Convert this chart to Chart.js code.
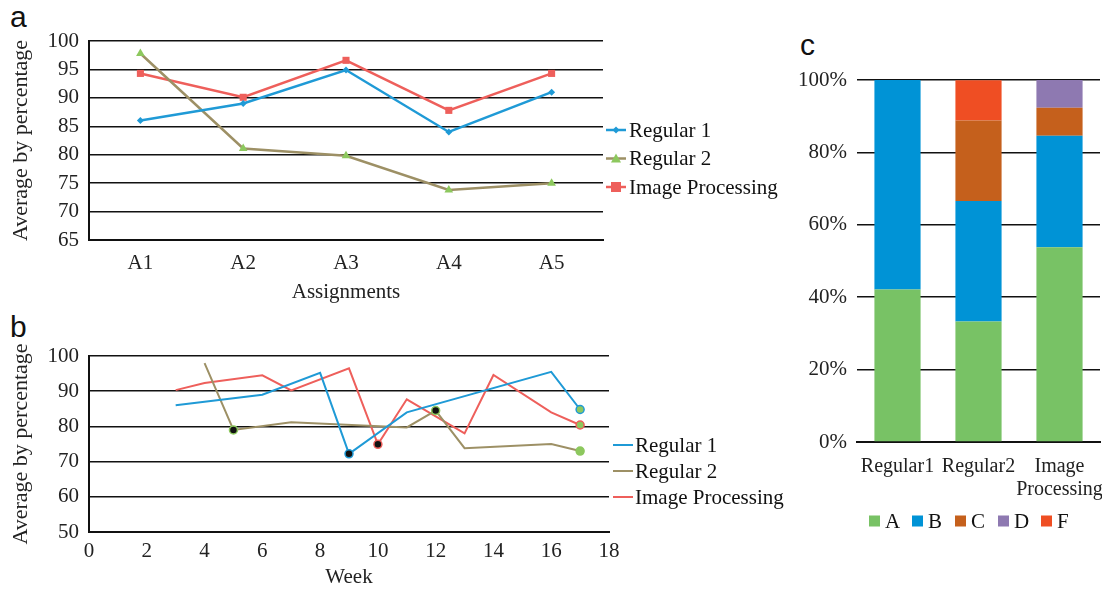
<!DOCTYPE html>
<html>
<head>
<meta charset="utf-8">
<script src="https://cdn.jsdelivr.net/npm/chart.js@4.4.1/dist/chart.umd.min.js"></script>
<style>
  body { margin: 0; background: #fff; width: 1102px; height: 590px; position: relative; overflow: hidden; }
  canvas { position: absolute; }
  .tag { position: absolute; font-family: "Liberation Sans", "DejaVu Sans", sans-serif; font-size: 30px; color: #111; line-height: 1; }
</style>
</head>
<body>
<div class="tag" style="left:10px; top:2px;">a</div>
<div class="tag" style="left:10px; top:312px;">b</div>
<div class="tag" style="left:800px; top:30px;">c</div>
<canvas id="chartA" width="790" height="305" style="left:0; top:0;"></canvas>
<canvas id="chartB" width="800" height="280" style="left:0; top:310px;"></canvas>
<canvas id="chartC" width="340" height="570" style="left:790px; top:20px;"></canvas>
<script>
// panel a: average per assignment
const assignments = ['A1', 'A2', 'A3', 'A4', 'A5'];
const regular1Avg = [86, 89, 94.9, 84, 91];
const regular2Avg = [97.8, 81.1, 79.8, 73.8, 75];
const imageAvg = [94.3, 90.1, 96.6, 87.8, 94.3];

// panel b: average per week
const reg1Weeks = [3, 6, 8, 9, 11, 16, 17];
const reg1Weekly = [86, 89, 95.2, 72.2, 84, 95.5, 84.8];
const reg2Weeks = [4, 5, 7, 11, 12, 13, 16, 17];
const reg2Weekly = [98, 79, 81.2, 79.7, 84.5, 73.8, 75, 73];
const imgWeeks = [3, 4, 6, 7, 9, 10, 11, 13, 14, 16, 17];
const imgWeekly = [90.3, 92.3, 94.5, 90.2, 96.5, 74.9, 87.7, 78, 94.6, 84, 80.4];
// weeks with a dot on them
const reg1Marked = [9, 17];
const reg2Marked = [5, 12, 17];
const imgMarked = [10, 17];
const lastWeek = 17;

// panel c: grade distribution (%)
const groups = ['Regular1', 'Regular2', ['Image', 'Processing']];
const gradeA = [42.1, 33.3, 53.8];
const gradeB = [57.9, 33.3, 30.8];
const gradeC = [0, 22.2, 7.7];
const gradeD = [0, 0, 7.7];
const gradeF = [0, 11.1, 0];

const BLUE = '#1f9ad6';
const OLIVE = '#9d9065';
const RED = '#ee5f5b';
const GREEN = '#8dc85e';
const SERIF = '"Liberation Serif", "DejaVu Serif", serif';
const INK = '#222';

function drawMarker(ctx, style, cx, cy, r, color) {
    ctx.fillStyle = color;
    ctx.beginPath();
    if (style === 'rect') {
        ctx.rect(cx - r, cy - r, 2 * r, 2 * r);
    } else if (style === 'triangle') {
        ctx.moveTo(cx, cy - r);
        ctx.lineTo(cx + r, cy + r * 0.8);
        ctx.lineTo(cx - r, cy + r * 0.8);
        ctx.closePath();
    } else {
        ctx.moveTo(cx, cy - r);
        ctx.lineTo(cx + r, cy);
        ctx.lineTo(cx, cy + r);
        ctx.lineTo(cx - r, cy);
        ctx.closePath();
    }
    ctx.fill();
}

// simple legend drawn straight on the canvas, one entry per dataset
const keyLegend = {
    id: 'keyLegend',
    afterDraw(chart, args, opts) {
        const ctx = chart.ctx;
        ctx.save();
        ctx.font = opts.font;
        ctx.textBaseline = 'middle';
        chart.data.datasets.forEach((ds, i) => {
            const x = opts.x + i * (opts.dx || 0);
            const y = opts.y + i * (opts.dy || 0);
            if (opts.kind === 'box') {
                ctx.fillStyle = ds.backgroundColor;
                ctx.fillRect(x, y - opts.keySize / 2, opts.keySize, opts.keySize);
            } else {
                ctx.strokeStyle = ds.borderColor;
                ctx.lineWidth = ds.borderWidth;
                ctx.beginPath();
                ctx.moveTo(x, y);
                ctx.lineTo(x + opts.keySize, y);
                ctx.stroke();
                if (opts.kind === 'marker') {
                    drawMarker(ctx, ds.pointStyle, x + opts.keySize / 2, y, ds.pointRadius, ds.pointBackgroundColor);
                }
            }
            ctx.fillStyle = '#111';
            ctx.fillText(ds.label, x + opts.keySize + opts.gap, y + 1);
        });
        ctx.restore();
    }
};

function yAxis(min, max, step, width, titleText) {
    return {
        min: min,
        max: max,
        ticks: { stepSize: step, color: INK, padding: 10, font: { family: SERIF, size: 21 } },
        grid: { color: '#111', lineWidth: 1.5, drawTicks: false },
        border: { display: true, color: '#111', width: 2 },
        title: {
            display: !!titleText,
            text: titleText,
            color: INK,
            padding: { top: 8, bottom: 0 },
            font: { family: SERIF, size: 22 }
        },
        afterFit: s => { s.width = width; }
    };
}

// ---------- panel a ----------
new Chart(document.getElementById('chartA'), {
    type: 'line',
    data: {
        labels: assignments,
        datasets: [
            {
                label: 'Regular 1', data: regular1Avg, borderColor: BLUE, borderWidth: 2.5,
                pointStyle: 'rectRot', pointRadius: 3.5, pointBackgroundColor: BLUE, pointBorderColor: BLUE, pointBorderWidth: 0
            },
            {
                label: 'Regular 2', data: regular2Avg, borderColor: OLIVE, borderWidth: 2.5,
                pointStyle: 'triangle', pointRadius: 5, pointBackgroundColor: GREEN, pointBorderColor: GREEN, pointBorderWidth: 0
            },
            {
                label: 'Image Processing', data: imageAvg, borderColor: RED, borderWidth: 2.5,
                pointStyle: 'rect', pointRadius: 5, pointBackgroundColor: RED, pointBorderColor: RED, pointBorderWidth: 0
            }
        ]
    },
    options: {
        responsive: false,
        animation: false,
        devicePixelRatio: 1,
        layout: { padding: { top: 41, right: 187, left: 0, bottom: 0 } },
        plugins: {
            legend: { display: false },
            tooltip: { enabled: false },
            keyLegend: { kind: 'marker', x: 606, y: 130, dy: 28.5, keySize: 20, gap: 3, font: '21px ' + SERIF }
        },
        scales: {
            x: {
                offset: true,
                ticks: { color: INK, padding: 11, font: { family: SERIF, size: 21 } },
                grid: { color: 'transparent', drawTicks: false },
                border: { display: true, color: '#111', width: 2 },
                title: { display: true, text: 'Assignments', color: INK, padding: { top: 2, bottom: 0 }, font: { family: SERIF, size: 21 } },
                afterFit: s => { s.height = 65; }
            },
            y: yAxis(65, 100, 5, 89, 'Average by percentage')
        }
    },
    plugins: [keyLegend]
});

// ---------- panel b ----------
function weekly(weeks, values) {
    return weeks.map((w, i) => ({ x: w, y: values[i] }));
}
function markedDots(marked) {
    return ctx => marked.includes(ctx.raw.x) ? 4 : 0;
}
function dotFill(ctx) {
    return ctx.raw.x === lastWeek ? GREEN : '#111';
}

new Chart(document.getElementById('chartB'), {
    type: 'line',
    data: {
        datasets: [
            {
                label: 'Regular 1', data: weekly(reg1Weeks, reg1Weekly), borderColor: BLUE, borderWidth: 2,
                pointRadius: markedDots(reg1Marked), pointBackgroundColor: dotFill, pointBorderColor: BLUE, pointBorderWidth: 1.5
            },
            {
                label: 'Regular 2', data: weekly(reg2Weeks, reg2Weekly), borderColor: OLIVE, borderWidth: 2,
                pointRadius: markedDots(reg2Marked), pointBackgroundColor: dotFill, pointBorderColor: GREEN, pointBorderWidth: 1.5
            },
            {
                label: 'Image Processing', data: weekly(imgWeeks, imgWeekly), borderColor: RED, borderWidth: 2,
                pointRadius: markedDots(imgMarked), pointBackgroundColor: dotFill, pointBorderColor: RED, pointBorderWidth: 1.5
            }
        ]
    },
    options: {
        responsive: false,
        animation: false,
        devicePixelRatio: 1,
        layout: { padding: { top: 46, right: 191, left: 0, bottom: 0 } },
        plugins: {
            legend: { display: false },
            tooltip: { enabled: false },
            keyLegend: { kind: 'line', x: 613, y: 135, dy: 26, keySize: 20, gap: 2, font: '21px ' + SERIF }
        },
        scales: {
            x: {
                type: 'linear',
                min: 0,
                max: 18,
                ticks: { stepSize: 2, color: INK, padding: 7, font: { family: SERIF, size: 21 } },
                grid: { color: 'transparent', drawTicks: false },
                border: { display: true, color: '#111', width: 2 },
                title: { display: true, text: 'Week', color: INK, padding: { top: 2, bottom: 0 }, font: { family: SERIF, size: 21 } },
                afterFit: s => { s.height = 58; }
            },
            y: yAxis(50, 100, 10, 89, 'Average by percentage')
        }
    },
    plugins: [keyLegend]
});

// ---------- panel c ----------
function gradeSet(label, values, color) {
    return { label: label, data: values, backgroundColor: color, borderWidth: 0, barPercentage: 0.57, categoryPercentage: 1 };
}

const yC = yAxis(0, 100, 20, 67, '');
yC.stacked = true;
yC.border = { display: false };
yC.ticks.callback = v => v + '%';

new Chart(document.getElementById('chartC'), {
    type: 'bar',
    data: {
        labels: groups,
        datasets: [
            gradeSet('A', gradeA, '#78c265'),
            gradeSet('B', gradeB, '#0093d6'),
            gradeSet('C', gradeC, '#c5601c'),
            gradeSet('D', gradeD, '#8e79b1'),
            gradeSet('F', gradeF, '#ef4e23')
        ]
    },
    options: {
        responsive: false,
        animation: false,
        devicePixelRatio: 1,
        layout: { padding: { top: 60, right: 30, left: 0, bottom: 0 } },
        plugins: {
            legend: { display: false },
            tooltip: { enabled: false },
            keyLegend: { kind: 'box', x: 79, y: 501, dx: 43, keySize: 11, gap: 5, font: '21px ' + SERIF }
        },
        scales: {
            x: {
                stacked: true,
                ticks: { color: INK, padding: 13, maxRotation: 0, minRotation: 0, autoSkip: false, font: { family: SERIF, size: 20, lineHeight: 1.15 } },
                grid: { color: 'transparent', drawTicks: false },
                border: { display: true, color: '#111', width: 2 },
                afterFit: s => { s.height = 148; }
            },
            y: yC
        }
    },
    plugins: [keyLegend]
});
</script>
</body>
</html>
